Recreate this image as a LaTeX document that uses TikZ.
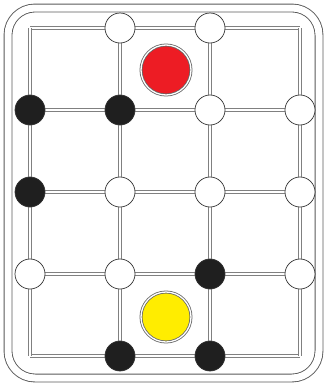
\documentclass[tikz,border=0pt]{standalone}
\definecolor{tokenred}{RGB}{237,28,36}
\definecolor{tokenyellow}{RGB}{255,237,0}
\begin{document}
\begin{tikzpicture}[
				x=1pt, y=-1pt,
				frame/.style={draw=black!65, double=white, double distance=7pt, line width=0.9pt, rounded corners=27pt},
				gridline/.style={draw=black!50, double=white, double distance=1.6pt, line width=1.1pt},
				piece/.style={circle, draw=black!80, line width=0.7pt, minimum size=30pt, inner sep=0pt},
				blackpiece/.style={piece, fill=black!88},
				whitepiece/.style={piece, fill=white},
				token/.style={circle, draw=black!60, double=white, double distance=1.3pt, line width=0.8pt, minimum size=50pt, inner sep=0pt}
				]
				\useasboundingbox (0,0) rectangle (325,383);
				\draw[frame] (8,8) rectangle (319,378);
				% grid points
				\foreach \c/\x in {1/30, 2/120, 3/210, 4/300}
					\foreach \r/\y in {1/28, 2/110, 3/192, 4/274, 5/356}
						\coordinate (g\c\r) at (\x,\y);
				% rows and columns
				\foreach \r in {1,...,5}
					\draw[gridline] (g1\r) -- (g4\r);
				\foreach \c in {1,...,4}
					\draw[gridline] (g\c1) -- (g\c5);
				% big tokens
				\node[token, fill=tokenred] (red) at (166,70) {};
				\node[token, fill=tokenyellow] (yellow) at (166,317) {};
				% pieces
				\node[whitepiece] (w21) at (g21) {};
				\node[whitepiece] (w31) at (g31) {};
				\node[blackpiece] (b12) at (g12) {};
				\node[blackpiece] (b22) at (g22) {};
				\node[whitepiece] (w32) at (g32) {};
				\node[whitepiece] (w42) at (g42) {};
				\node[blackpiece] (b13) at (g13) {};
				\node[whitepiece] (w23) at (g23) {};
				\node[whitepiece] (w33) at (g33) {};
				\node[whitepiece] (w43) at (g43) {};
				\node[whitepiece] (w14) at (g14) {};
				\node[whitepiece] (w24) at (g24) {};
				\node[blackpiece] (b34) at (g34) {};
				\node[whitepiece] (w44) at (g44) {};
				\node[blackpiece] (b25) at (g25) {};
				\node[blackpiece] (b35) at (g35) {};
			\end{tikzpicture}
\end{document}
